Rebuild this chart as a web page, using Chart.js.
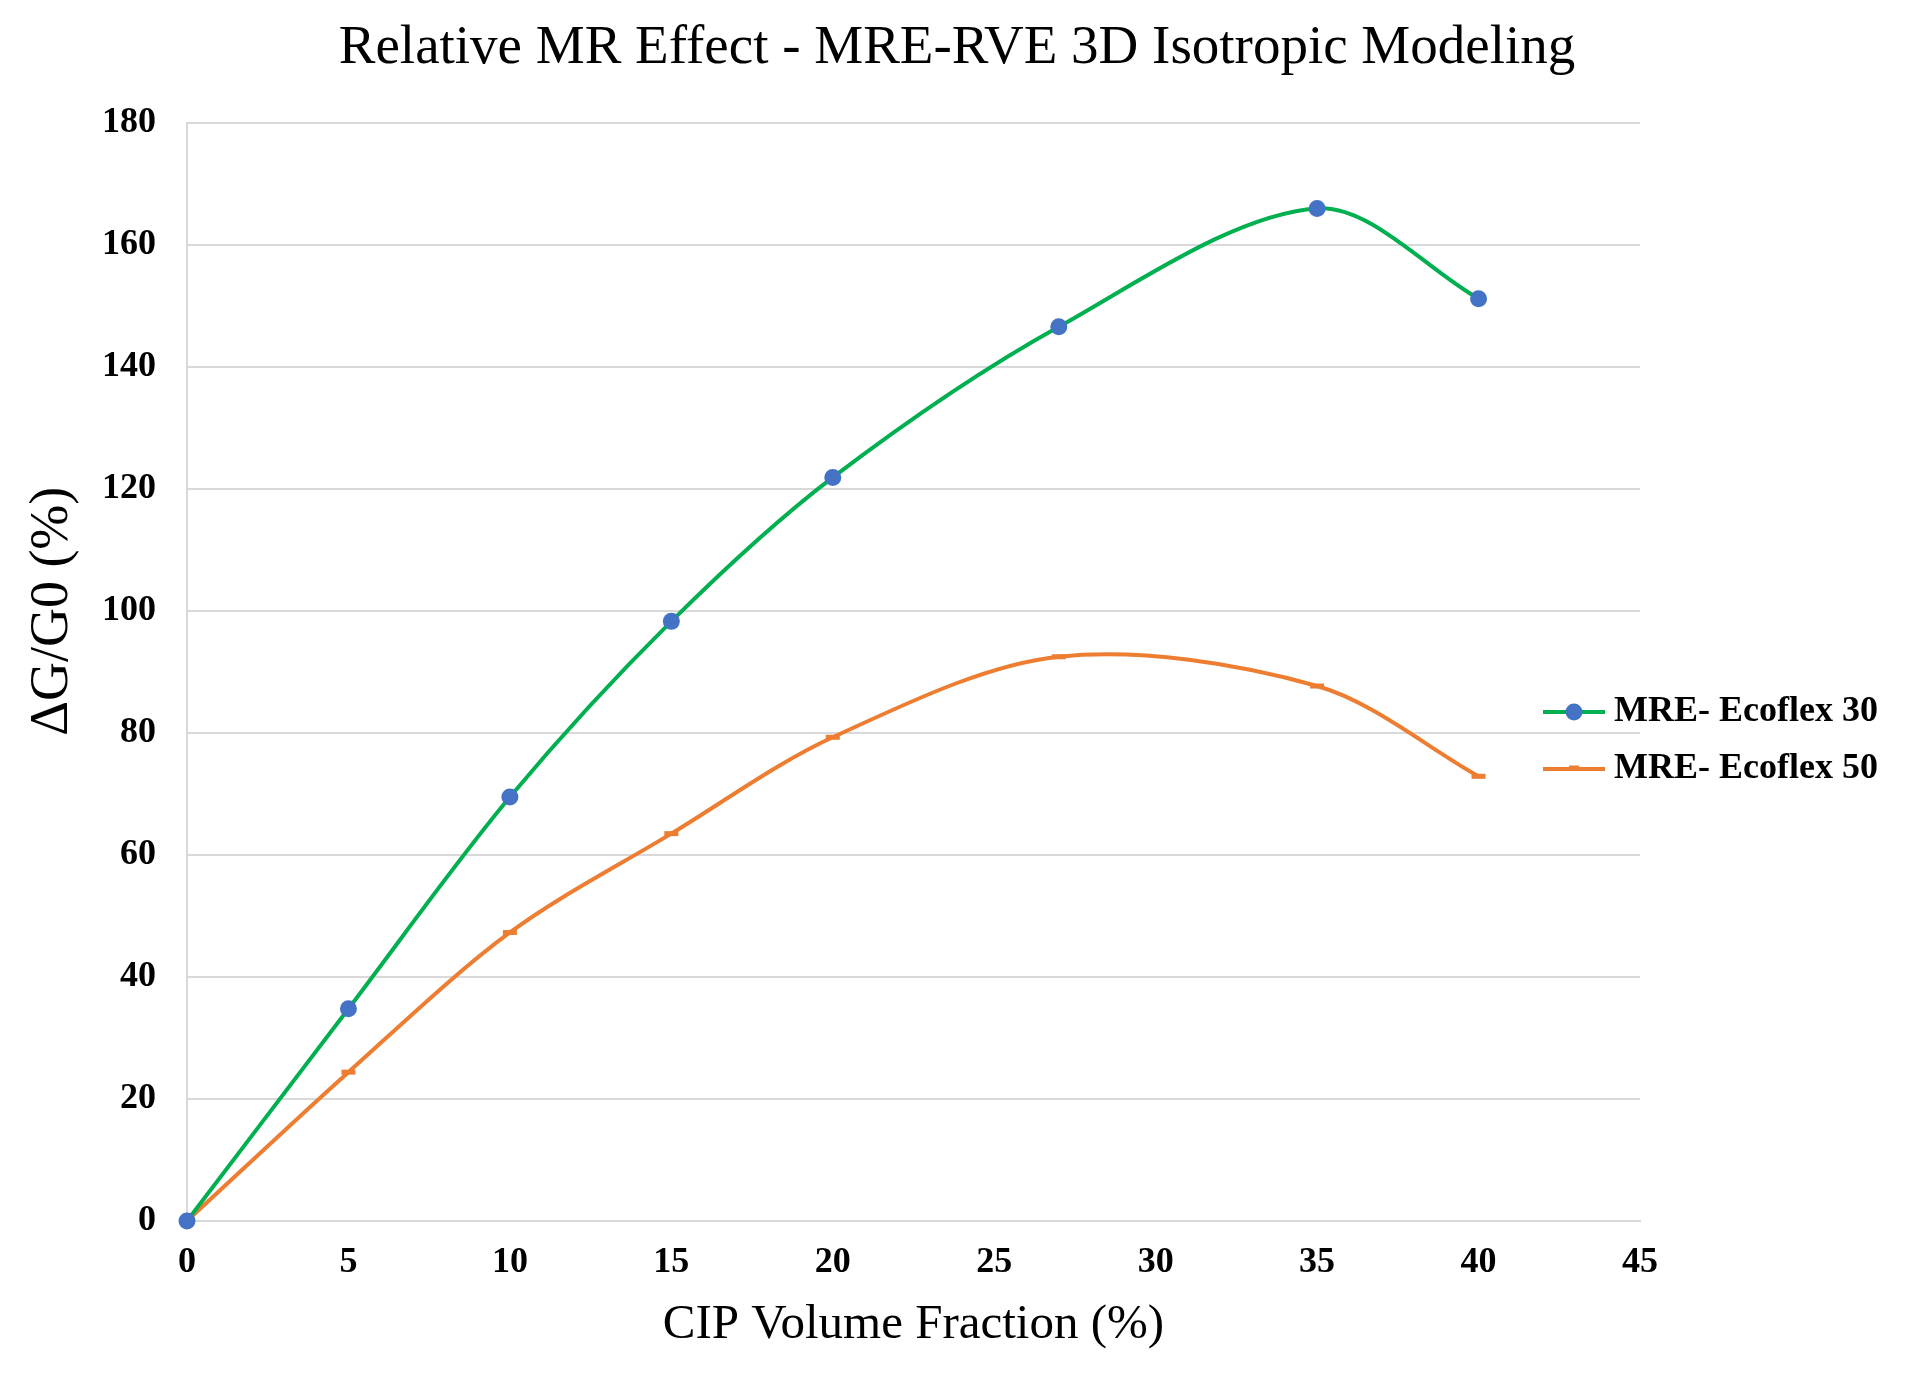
<!DOCTYPE html>
<html>
<head>
<meta charset="utf-8">
<script src="https://cdn.jsdelivr.net/npm/chart.js@4.4.1/dist/chart.umd.min.js"></script>
<style>
  html, body { margin: 0; padding: 0; background: #fff; }
  #wrap { width: 1914px; height: 1385px; }
</style>
</head>
<body>
<div id="wrap"><canvas id="mrChart"></canvas></div>
<script>
// values
var cipFraction = [0, 5, 10, 15, 20, 27, 35, 40];
var ecoflex30 = [0, 34.8, 69.5, 98.3, 121.9, 146.6, 166, 151.2];
var ecoflex50 = [0, 24.4, 47.3, 63.5, 79.3, 92.5, 87.7, 72.9];
var seriesNames = ['MRE- Ecoflex 30', 'MRE- Ecoflex 50'];
var xTicks = [0, 45, 5];   // min, max, step
var yTicks = [0, 180, 20];

var serif = "'Liberation Serif', 'Times New Roman', serif";
var gridGrey = '#d9d9d9';

function toPoints(xs, ys) {
  return xs.map(function (x, i) { return { x: x, y: ys[i] }; });
}

// little legend icons: line with the marker on it, like the spreadsheet legend
function legendIcon(lineColor, marker) {
  var c = document.createElement('canvas');
  c.width = 62; c.height = 20;
  var g = c.getContext('2d');
  g.strokeStyle = lineColor;
  g.lineWidth = 4;
  g.beginPath(); g.moveTo(0, 10); g.lineTo(62, 10); g.stroke();
  if (marker === 'circle') {
    g.fillStyle = '#4472C4';
    g.beginPath(); g.arc(31, 10, 8.5, 0, Math.PI * 2); g.fill();
  } else {
    g.lineWidth = 5;
    g.beginPath(); g.moveTo(26, 9); g.lineTo(36, 9); g.stroke();
  }
  return c;
}
var icons = [legendIcon('#00B050', 'circle'), legendIcon('#ED7D31', 'dash')];

// the legend sits partly over the plot in the original
var legendNudge = {
  id: 'legendNudge',
  afterLayout: function (chart) {
    var lg = chart.legend;
    lg.left -= 109;
    lg.top += 48;
    lg.bottom += 48;
  }
};

var ctx = document.getElementById('mrChart');

var myChart = new Chart(ctx, {
  type: 'line',
  data: {
    datasets: [
      {
        label: seriesNames[0],
        data: toPoints(cipFraction, ecoflex30),
        borderColor: '#00B050',
        borderWidth: 4,
        backgroundColor: '#4472C4',
        pointBackgroundColor: '#4472C4',
        pointBorderColor: '#4472C4',
        pointRadius: 8.5,
        pointBorderWidth: 0,
        tension: 0.32,
        clip: false
      },
      {
        label: seriesNames[1],
        data: toPoints(cipFraction, ecoflex50),
        borderColor: '#ED7D31',
        borderWidth: 4,
        backgroundColor: '#ED7D31',
        pointStyle: 'line',
        pointBorderColor: '#ED7D31',
        pointRadius: 7,
        pointBorderWidth: 5,
        tension: 0.32,
        clip: false
      }
    ]
  },
  options: {
    responsive: true,
    maintainAspectRatio: false,
    animation: false,
    devicePixelRatio: 1,
    layout: { padding: 0 },
    plugins: {
      title: {
        display: true,
        text: 'Relative MR Effect - MRE-RVE 3D Isotropic Modeling',
        color: '#000',
        font: { family: serif, size: 55, weight: 'normal', lineHeight: 1.2 },
        padding: { top: 16, bottom: 41 }
      },
      legend: {
        position: 'right',
        maxWidth: 274,
        labels: {
          usePointStyle: true,
          pointStyleWidth: 44,
          padding: 21,
          color: '#000',
          font: { family: serif, size: 36, weight: 'bold' },
          generateLabels: function (chart) {
            return chart.data.datasets.map(function (ds, i) {
              return {
                text: ds.label,
                pointStyle: icons[i],
                fillStyle: ds.borderColor,
                strokeStyle: ds.borderColor,
                lineWidth: 0,
                hidden: false,
                datasetIndex: i
              };
            });
          }
        }
      },
      tooltip: { enabled: false }
    },
    scales: {
      x: {
        type: 'linear',
        min: xTicks[0],
        max: xTicks[1],
        afterFit: function (axis) { axis.height = 164; },
        ticks: {
          stepSize: xTicks[2],
          padding: 20,
          color: '#000',
          font: { family: serif, size: 36, weight: 'bold' }
        },
        grid: { display: false, drawTicks: false },
        border: { display: true, color: gridGrey, width: 2 },
        title: {
          display: true,
          text: 'CIP Volume Fraction (%)',
          color: '#000',
          font: { family: serif, size: 49, weight: 'normal', lineHeight: 1.2 },
          padding: { top: 0, bottom: 30 }
        }
      },
      y: {
        min: yTicks[0],
        max: yTicks[1],
        afterFit: function (axis) { axis.width = 187; },
        ticks: {
          stepSize: yTicks[2],
          padding: 31,
          color: '#000',
          font: { family: serif, size: 36, weight: 'bold' }
        },
        grid: { color: gridGrey, lineWidth: 2, drawTicks: false },
        border: { display: true, color: gridGrey, width: 2 },
        title: {
          display: true,
          text: '         ΔG/G0 (%)',
          color: '#000',
          font: { family: serif, size: 54, weight: 'normal', lineHeight: 1.2 },
          padding: { top: 20, bottom: 0 }
        }
      }
    }
  },
  plugins: [legendNudge]
});
</script>
</body>
</html>
